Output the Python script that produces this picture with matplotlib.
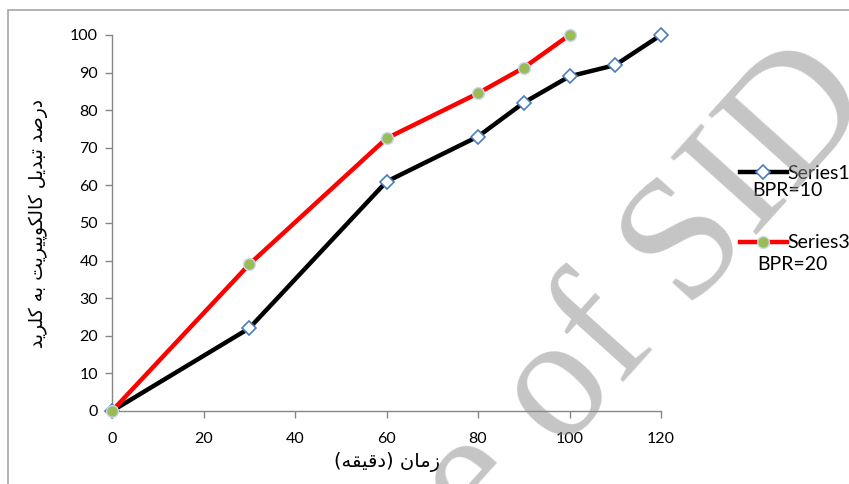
import matplotlib
matplotlib.use("Agg")
import matplotlib.pyplot as plt
import matplotlib.patches as patches

plt.rcParams['font.family'] = ['Lato', 'DejaVu Sans']

# data
time_s1 = [0, 30, 60, 80, 90, 100, 110, 120]
conv_s1 = [0, 22, 61, 73, 82, 89, 92, 100]
time_s3 = [0, 30, 60, 80, 90, 100]
conv_s3 = [0, 39, 72.5, 84.5, 91.3, 100]
xticks = [0, 20, 40, 60, 80, 100, 120]
yticks = list(range(0, 101, 10))

ylabel_fa = "درصد تبدیل کالکوپیریت به کلرید"
xlabel_fa = "زمان (دقیقه)"

# minimal arabic/persian shaping (matplotlib has no shaping engine)
FORMS = {
    'ا': ('\uFE8D', '\uFE8E', None, None),
    'ب': ('\uFE8F', '\uFE90', '\uFE91', '\uFE92'),
    'پ': ('\uFB56', '\uFB57', '\uFB58', '\uFB59'),
    'ت': ('\uFE95', '\uFE96', '\uFE97', '\uFE98'),
    'د': ('\uFEA9', '\uFEAA', None, None),
    'ر': ('\uFEAD', '\uFEAE', None, None),
    'ز': ('\uFEAF', '\uFEB0', None, None),
    'ص': ('\uFEB9', '\uFEBA', '\uFEBB', '\uFEBC'),
    'ق': ('\uFED5', '\uFED6', '\uFED7', '\uFED8'),
    'ک': ('\uFB8E', '\uFB8F', '\uFB90', '\uFB91'),
    'ل': ('\uFEDD', '\uFEDE', '\uFEDF', '\uFEE0'),
    'م': ('\uFEE1', '\uFEE2', '\uFEE3', '\uFEE4'),
    'ن': ('\uFEE5', '\uFEE6', '\uFEE7', '\uFEE8'),
    'ه': ('\uFEE9', '\uFEEA', '\uFEEB', '\uFEEC'),
    'و': ('\uFEED', '\uFEEE', None, None),
    'ی': ('\uFBFC', '\uFBFD', '\uFBFE', '\uFBFF'),
}


def shape(text):
    out = []
    for i, ch in enumerate(text):
        if ch not in FORMS:
            out.append(ch)
            continue
        prev = text[i - 1] if i > 0 else ''
        nxt = text[i + 1] if i + 1 < len(text) else ''
        f = FORMS[ch]
        jp = prev in FORMS and FORMS[prev][2] is not None
        jn = f[2] is not None and nxt in FORMS
        if jp and jn:
            out.append(f[3])
        elif jp:
            out.append(f[1])
        elif jn:
            out.append(f[2])
        else:
            out.append(f[0])
    vis = ''.join(out)[::-1]
    return vis.translate(str.maketrans('()', ')('))


fig = plt.figure(figsize=(8.49, 4.84), dpi=100)
ax = fig.add_axes([112 / 849, 73 / 484, 549 / 849, 376 / 484])

# outer chart frame
fig.patches.append(patches.Rectangle((8 / 849, -0.5), 2, 1.5 - 10 / 484,
                                     transform=fig.transFigure, fill=False,
                                     edgecolor='#a6a6a6', linewidth=1.2))

l1, = ax.plot(time_s1, conv_s1, color='black', lw=3.2, marker='D', ms=7.5,
              mfc='white', mec='#4a7ebb', mew=1.2, clip_on=False, zorder=3)
l3, = ax.plot(time_s3, conv_s3, color='#ff0000', lw=3.2, marker='o', ms=8.5,
              mfc='#9bbb59', mec='#c6d9f1', mew=1.0, clip_on=False, zorder=4)

ax.set_xlim(0, 120)
ax.set_ylim(0, 100)
ax.set_xticks(xticks)
ax.set_yticks(yticks)
for s in ['top', 'right']:
    ax.spines[s].set_visible(False)
for s in ['left', 'bottom']:
    ax.spines[s].set_color('#868686')
    ax.spines[s].set_linewidth(1.0)
ax.tick_params(axis='both', colors='#868686', labelcolor='black',
               length=5, width=1.0, labelsize=11.5)
ax.tick_params(axis='x', pad=10)
ax.tick_params(axis='y', pad=5)

ax.set_ylabel(shape(ylabel_fa), family=['DejaVu Sans'], fontsize=13.5)
ax.yaxis.set_label_coords(-0.116, 0.5)
ax.set_xlabel(shape(xlabel_fa), family=['DejaVu Sans'], fontsize=14)
ax.xaxis.set_label_coords(0.5, -0.108)

leg = fig.legend([l1, l3], ['Series1', 'Series3'], loc='upper left',
                 bbox_to_anchor=(740 / 849, 1 - 165 / 484), frameon=False,
                 fontsize=14, handlelength=2.4, handletextpad=0.05,
                 labelspacing=2.7, borderpad=0, borderaxespad=0)
fig.text(752 / 849, 1 - 190 / 484, 'BPR=10', fontsize=14, va='center')
fig.text(757 / 849, 1 - 264 / 484, 'BPR=20', fontsize=14, va='center')

# watermark
fig.text(484 / 849, 1 - 474 / 484, 'Archive of SID', family='Liberation Serif',
         fontsize=126, color='#8c8c8c', alpha=0.5, rotation=48,
         rotation_mode='anchor', ha='center', va='center', zorder=10)

fig.savefig('out.png', dpi=100)
